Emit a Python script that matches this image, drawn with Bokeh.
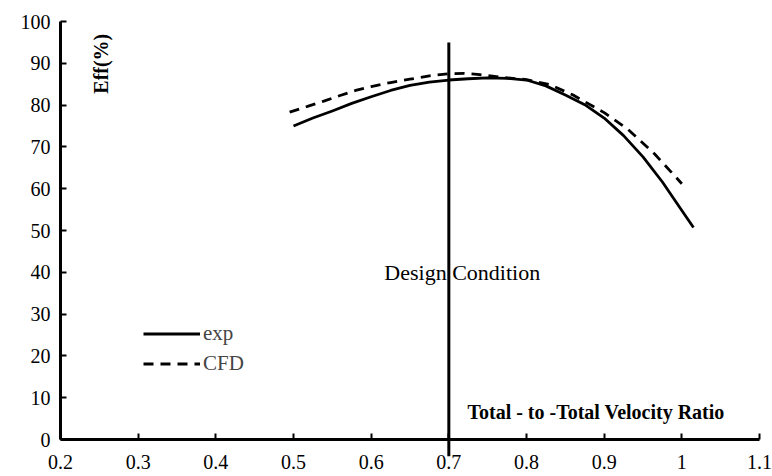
import math
from bokeh.plotting import figure
from bokeh.models import Range1d, FixedTicker, Label, Legend, LegendItem
from bokeh.embed import file_html
from bokeh.resources import INLINE

# data
exp_x = [0.50, 0.525, 0.55, 0.575, 0.60, 0.625, 0.65, 0.675, 0.70, 0.725, 0.75, 0.775, 0.80,
         0.825, 0.85, 0.875, 0.90, 0.925, 0.95, 0.975, 1.00, 1.015]
exp_y = [75.0, 76.9, 78.6, 80.4, 82.0, 83.5, 84.7, 85.5, 86.0, 86.3, 86.5, 86.4, 86.0,
         84.6, 82.4, 80.1, 76.9, 72.7, 67.6, 61.6, 54.8, 50.7]

cfd_x = [0.495, 0.52, 0.54, 0.56, 0.58, 0.60, 0.625, 0.65, 0.675, 0.70, 0.72, 0.74, 0.77,
         0.80, 0.83, 0.86, 0.90, 0.93, 0.965, 1.00]
cfd_y = [78.3, 79.8, 81.0, 82.3, 83.5, 84.4, 85.4, 86.2, 87.0, 87.5, 87.6, 87.3, 86.6,
         86.1, 84.9, 82.4, 78.2, 74.3, 68.3, 61.2]

design_x = [0.7, 0.7]
design_y = [-4, 95]

x_ticks = [0.2, 0.3, 0.4, 0.5, 0.6, 0.7, 0.8, 0.9, 1.0, 1.1]
x_tick_labels = {0.2: "0.2", 0.3: "0.3", 0.4: "0.4", 0.5: "0.5", 0.6: "0.6",
                 0.7: "0.7", 0.8: "0.8", 0.9: "0.9", 1.0: "1", 1.1: "1.1"}
y_ticks = [0, 10, 20, 30, 40, 50, 60, 70, 80, 90, 100]

SERIF = "Liberation Serif"

p = figure(width=772, height=476, output_backend="svg", toolbar_location=None,
           x_range=Range1d(0.2, 1.1), y_range=Range1d(0, 100),
           min_border_left=60, min_border_right=13, min_border_top=21, min_border_bottom=37)
p.background_fill_color = "white"
p.border_fill_color = "white"
p.outline_line_color = None
p.xgrid.visible = False
p.ygrid.visible = False

for ax in (p.xaxis[0], p.yaxis[0]):
    ax.axis_line_width = 3
    ax.axis_line_color = "black"
    ax.major_tick_line_width = 2
    ax.major_tick_line_color = "black"
    ax.major_tick_in = 6
    ax.major_tick_out = 0
    ax.minor_tick_in = 0
    ax.minor_tick_out = 0
    ax.major_label_text_font = SERIF
    ax.major_label_text_font_size = "20px"
    ax.major_label_text_color = "black"

p.xaxis.ticker = FixedTicker(ticks=x_ticks)
p.xaxis.major_label_overrides = x_tick_labels
p.xaxis.major_label_standoff = 15
p.yaxis.ticker = FixedTicker(ticks=y_ticks)
p.yaxis.major_label_standoff = 10

r_exp = p.line(exp_x, exp_y, line_color="black", line_width=2.8, line_join="round")
r_cfd = p.line(cfd_x, cfd_y, line_color="black", line_width=2.8, line_dash="10 7")
p.line(design_x, design_y, line_color="black", line_width=3, level="annotation")

p.add_layout(Label(x=0.617, y=40, text="Design Condition", text_font=SERIF,
                   text_font_size="22px", text_color="black",
                   text_align="left", text_baseline="alphabetic"))
p.add_layout(Label(x=0.724, y=6.5, text="Total - to -Total Velocity Ratio", text_font=SERIF,
                   text_font_size="20px", text_font_style="bold", text_color="black",
                   text_align="left", text_baseline="alphabetic"))
p.add_layout(Label(x=0.2516, y=89.9, text="Eff(%)", text_font=SERIF,
                   text_font_size="20px", text_font_style="bold", text_color="black",
                   angle=math.pi / 2, text_align="center", text_baseline="middle"))

legend = Legend(items=[LegendItem(label="exp", renderers=[r_exp]),
                       LegendItem(label="CFD", renderers=[r_cfd])],
                location=(83, 62), padding=0, margin=0, spacing=3,
                glyph_width=57, glyph_height=27, label_height=27, label_standoff=3,
                label_text_font=SERIF, label_text_font_size="21px",
                border_line_color=None, background_fill_alpha=0)
p.add_layout(legend)

open("out.html", "w").write(file_html(p, INLINE))
